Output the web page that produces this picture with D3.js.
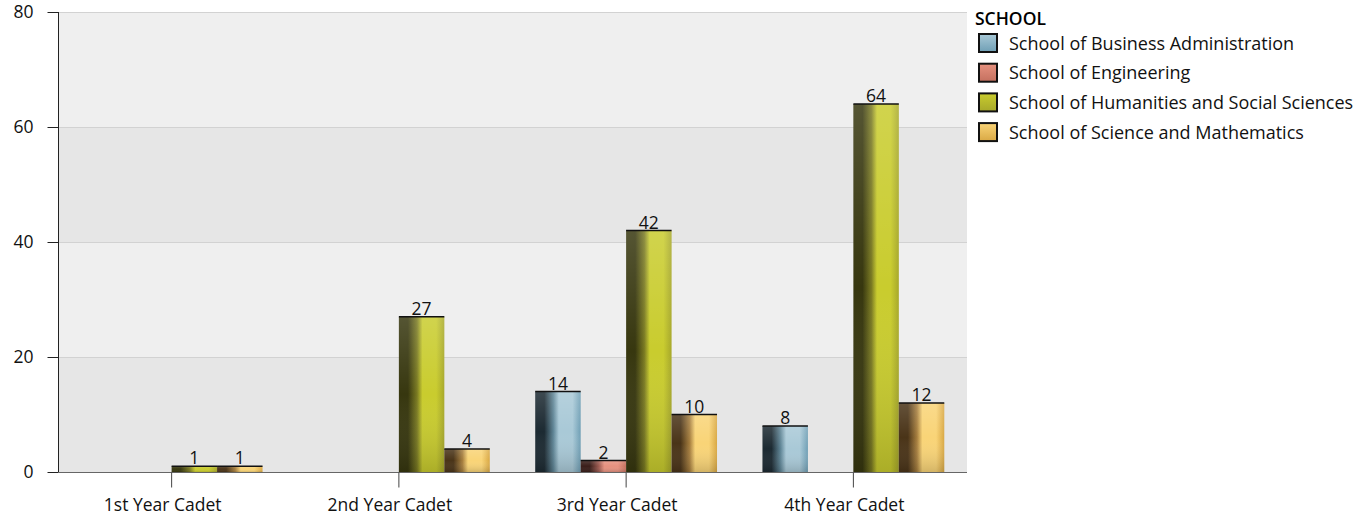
<!DOCTYPE html>
<html><head><meta charset="utf-8">
<script src="https://cdn.jsdelivr.net/npm/d3@7"></script>
<style>body{margin:0;background:#fff}svg{display:block}text{font-family:"Open Sans",sans-serif}</style>
</head><body><svg id="c" width="1368" height="518"></svg>
<script>
const categories = ["1st Year Cadet","2nd Year Cadet","3rd Year Cadet","4th Year Cadet"];
const seriesNames = ["School of Business Administration","School of Engineering","School of Humanities and Social Sciences","School of Science and Mathematics"];
const business = [0,0,14,8];
const engineering = [0,0,2,0];
const humanities = [1,27,42,64];
const science = [1,4,10,12];
const yTicks = [0,20,40,60,80];
const legendTitle = "SCHOOL";
// colour palettes per series: [dark, mid, bright, edge]
const palettes = [
  ["#1c2a32","#5f8596","#a9c9d7","#6f9fb5"],
  ["#3a1e1a","#9c5a50","#e6917f","#c4705f"],
  ["#37370f","#7a7a22","#c9cc2e","#a7a82a"],
  ["#4a3418","#a67e3e","#f9d477","#d9a844"]
];
const seriesValues = [business, engineering, humanities, science];

const svg = d3.select("#c");
const m = {l:58, r:967, t:12, b:472};
const x0 = d3.scaleBand().domain(categories).range([m.l, m.r]).paddingInner(0).paddingOuter(0);
const y = d3.scaleLinear().domain([0,80]).range([m.b, m.t]);
// inner band scale: group occupies 80% of category
const inner = d3.scaleBand().domain(seriesNames).range([x0.bandwidth()*0.1, x0.bandwidth()*0.9]);

const defs = svg.append("defs");
palettes.forEach((p,i)=>{
  const g = defs.append("linearGradient").attr("id","g"+i).attr("x1","0").attr("x2","1").attr("y1","0").attr("y2","0");
  [[0,p[0]],[0.2,p[0]],[0.4,p[1]],[0.52,p[2]],[0.82,p[2]],[1,p[3]]].forEach(s=>g.append("stop").attr("offset",s[0]).attr("stop-color",s[1]));
  const lg = defs.append("linearGradient").attr("id","lg"+i).attr("x1","0").attr("x2","0").attr("y1","0").attr("y2","1");
  lg.append("stop").attr("offset",0).attr("stop-color",p[2]);
  lg.append("stop").attr("offset",1).attr("stop-color",p[3]);
});
const ov = defs.append("linearGradient").attr("id","ov").attr("x1","0").attr("x2","0").attr("y1","0").attr("y2","1");
ov.append("stop").attr("offset",0).attr("stop-color","#fff").attr("stop-opacity",0.15);
ov.append("stop").attr("offset",0.5).attr("stop-color","#fff").attr("stop-opacity",0);
ov.append("stop").attr("offset",1).attr("stop-color","#000").attr("stop-opacity",0.15);

// background bands
const bandColors = ["#e6e6e6","#efefef"];
for (let i=0;i<yTicks.length-1;i++){
  svg.append("rect").attr("x",m.l).attr("width",m.r-m.l)
    .attr("y",y(yTicks[i+1])).attr("height",y(yTicks[i])-y(yTicks[i+1]))
    .attr("fill",bandColors[i%2]);
}
svg.append("g").selectAll("line").data(yTicks.slice(1)).join("line")
  .attr("x1",m.l).attr("x2",m.r).attr("y1",d=>y(d)+0.5).attr("y2",d=>y(d)+0.5)
  .attr("stroke","#d2d2d2").attr("stroke-width",1);

// bars
const data = [];
categories.forEach((c,ci)=>seriesNames.forEach((s,si)=>{
  data.push({c, s, si, v: seriesValues[si][ci]});
}));
const bars = svg.append("g").selectAll("g").data(data.filter(d=>d.v>0)).join("g")
  .attr("transform",d=>`translate(${x0(d.c)+inner(d.s)},0)`);
bars.append("rect").attr("x",0).attr("width",inner.bandwidth())
  .attr("y",d=>y(d.v)).attr("height",d=>y(0)-y(d.v)).attr("fill",d=>`url(#g${d.si})`);
bars.append("rect").attr("x",0).attr("width",inner.bandwidth())
  .attr("y",d=>y(d.v)).attr("height",d=>y(0)-y(d.v)).attr("fill","url(#ov)");
bars.append("line").attr("x1",0).attr("x2",inner.bandwidth())
  .attr("y1",d=>y(d.v)).attr("y2",d=>y(d.v)).attr("stroke","#111").attr("stroke-width",1.5);
bars.append("text").attr("x",inner.bandwidth()/2).attr("y",d=>y(d.v)-2)
  .attr("text-anchor","middle").attr("font-size",17.5).attr("fill","#111").text(d=>d.v);

// y axis
const ya = svg.append("g").attr("transform",`translate(${m.l+0.5},0)`)
  .call(d3.axisLeft(y).tickValues(yTicks).tickSize(11).tickPadding(14));
ya.select(".domain").attr("stroke","#222").attr("d",`M0,${m.t}V${m.b}`);
ya.selectAll(".tick line").attr("stroke","#222");
ya.selectAll(".tick text").attr("font-size",17.5).attr("fill","#111").attr("dy","0.32em");

// x axis
const xa = svg.append("g").attr("transform",`translate(0,${m.b+0.5})`)
  .call(d3.axisBottom(x0).tickSize(15).tickPadding(11));
xa.select(".domain").attr("stroke","#666").attr("d",`M${m.l},0H${m.r}`);
xa.selectAll(".tick line").attr("stroke","#444");
xa.selectAll(".tick text").attr("font-size",17.5).attr("fill","#111").attr("dx",-9);

// legend
const lgd = svg.append("g").attr("transform","translate(975,0)");
lgd.append("text").attr("x",0).attr("y",25).attr("font-size",17.5).attr("font-weight",600).attr("fill","#000").text(legendTitle);
const items = lgd.selectAll("g.it").data(seriesNames).join("g").attr("class","it")
  .attr("transform",(d,i)=>`translate(0,${34+i*29.7})`);
items.append("rect").attr("x",4).attr("y",0).attr("width",18).attr("height",18)
  .attr("fill",(d,i)=>`url(#lg${i})`).attr("stroke","#111").attr("stroke-width",2);
items.append("text").attr("x",34).attr("y",15.5).attr("font-size",18).attr("fill","#111").text(d=>d);
</script></body></html>
